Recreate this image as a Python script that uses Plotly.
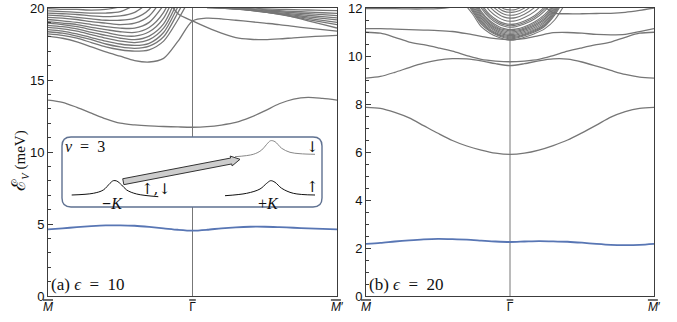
import math
import plotly.graph_objects as go

# ---------------- data ----------------
K21 = [i / 10 for i in range(21)]          # path  M -> Gamma -> M'  (0..2)
XTICK_VALS = [0, 1, 2]
OV = "<span style='text-decoration:overline'>{}</span>"
XTICK_TEXT = [OV.format("<i>M</i>"), OV.format("\u0393"), OV.format("<i>M</i>") + "\u2032"]
YTICKS_A = [0, 5, 10, 15, 20]
YTICKS_B = [0, 2, 4, 6, 8, 10, 12]

# panel (a) eps = 10
blue_a = [4.63, 4.7, 4.78, 4.85, 4.9, 4.91, 4.88, 4.8, 4.7, 4.6, 4.54,
          4.6, 4.7, 4.77, 4.81, 4.81, 4.78, 4.74, 4.7, 4.66, 4.63]
band_a1 = [13.6, 13.45, 13.1, 12.7, 12.3, 12.0, 11.88, 11.81, 11.77, 11.74, 11.72,
           11.76, 11.87, 12.05, 12.4, 12.85, 13.35, 13.68, 13.8, 13.72, 13.6]
low_a = [18.05, 17.9, 17.65, 17.3, 16.95, 16.65, 16.35, 16.25, 16.5, 17.7, 19.1,
         19.3, 19.25, 19.15, 19.05, 18.95, 18.85, 18.72, 18.6, 18.5, 18.4]
cross_a = [None] * 8 + [21.0, 19.6, 19.1, 18.65, 18.25, 17.95, 17.83, 17.8,
                        17.85, 17.93, 18.0, 18.05, 18.1]
bunch_left_a = [
    [18.2, 18.1, 17.9, 17.6, 17.3, 17.1, 17.0, 17.1, 17.7, 19.2, 21.0],
    [18.35, 18.25, 18.05, 17.8, 17.5, 17.3, 17.2, 17.35, 18.0, 19.7, 21.5],
    [18.5, 18.4, 18.2, 17.95, 17.7, 17.5, 17.4, 17.55, 18.3, 20.1, 22.0],
    [18.65, 18.55, 18.4, 18.15, 17.9, 17.7, 17.6, 17.8, 18.6, 20.5],
    [18.8, 18.7, 18.55, 18.3, 18.1, 17.9, 17.8, 18.05, 18.9, 21.0],
    [18.95, 18.85, 18.7, 18.5, 18.3, 18.1, 18.05, 18.35, 19.3, 21.5],
    [19.05, 18.95, 18.85, 18.65, 18.5, 18.35, 18.3, 18.65, 19.7, 22.0],
    [19.2, 19.1, 19.0, 18.85, 18.7, 18.6, 18.6, 19.0, 20.2],
    [19.35, 19.3, 19.2, 19.05, 18.95, 18.85, 18.95, 19.45, 20.8],
    [19.5, 19.45, 19.35, 19.25, 19.15, 19.15, 19.3, 19.9, 21.5],
    [19.65, 19.6, 19.55, 19.45, 19.4, 19.45, 19.7, 20.4],
    [19.8, 19.75, 19.7, 19.65, 19.65, 19.75, 20.2],
    [19.95, 19.9, 19.9, 19.85, 19.9, 20.1, 20.6],
]
bunch_right_a = [   # values at k = 1.1 ... 2.0
    [20.02, 19.99, 19.97, 19.95, 19.93, 19.91, 19.89, 19.86, 19.84, 19.82],
    [20.03, 19.99, 19.94, 19.9, 19.85, 19.81, 19.76, 19.72, 19.67, 19.63],
    [20.07, 20.0, 19.93, 19.87, 19.8, 19.74, 19.67, 19.6, 19.54, 19.47],
    [20.11, 20.02, 19.93, 19.84, 19.75, 19.66, 19.58, 19.49, 19.4, 19.31],
    [20.17, 20.06, 19.94, 19.83, 19.72, 19.61, 19.5, 19.39, 19.28, 19.17],
    [20.29, 20.14, 20.0, 19.86, 19.71, 19.57, 19.43, 19.29, 19.14, 19.0],
    [20.45, 20.27, 20.09, 19.91, 19.73, 19.55, 19.38, 19.2, 19.02, 18.84],
    [20.9, 20.63, 20.38, 20.13, 19.87, 19.62, 19.37, 19.11, 18.86, 18.61],
]

# panel (b) eps = 20
blue_b = [2.17, 2.21, 2.27, 2.32, 2.36, 2.38, 2.37, 2.35, 2.31, 2.27, 2.25,
          2.27, 2.29, 2.28, 2.26, 2.22, 2.17, 2.13, 2.12, 2.13, 2.17]
band_b1 = [7.86, 7.82, 7.65, 7.42, 7.1, 6.78, 6.48, 6.25, 6.08, 5.95, 5.9,
           5.95, 6.08, 6.27, 6.5, 6.8, 7.12, 7.45, 7.68, 7.82, 7.86]
band_b2 = [9.08, 9.15, 9.32, 9.52, 9.7, 9.83, 9.89, 9.88, 9.8, 9.68, 9.6,
           9.68, 9.8, 9.88, 9.87, 9.75, 9.58, 9.4, 9.23, 9.12, 9.08]
band_b3 = [10.99, 10.95, 10.78, 10.58, 10.47, 10.34, 10.2, 10.02, 9.86, 9.79, 9.76,
           9.79, 9.86, 10.02, 10.2, 10.34, 10.47, 10.58, 10.78, 10.95, 10.99]
band_b4 = [11.14, 11.14, 11.12, 11.1, 11.08, 11.06, 11.02, 10.93, 10.82, 10.72, 10.68,
           10.72, 10.85, 10.97, 10.98, 10.95, 10.9, 10.88, 10.9, 11.02, 11.14]
band_b5 = [11.97, 11.97, 11.97, 11.96, 11.96, 11.97, 12.05, 12.3, None, None, None,
           None, 12.3, 11.8, 11.76, 11.76, 11.77, 11.78, 11.82, 11.9, 12.0]
K_CLUSTER = [0.68, 0.74, 0.80, 0.86, 0.92, 0.96, 1.0, 1.04, 1.1, 1.17, 1.24, 1.31, 1.38]
cluster_b = [
    [12.2, 11.75, 11.22, 10.95, 10.78, 10.7, 10.66, 10.68, 10.78, 10.93, 11.13, 11.5, 12.15],
    [12.4, 11.85, 11.33, 11.03, 10.84, 10.76, 10.72, 10.74, 10.84, 11.0, 11.23, 11.7, 12.4],
    [12.5, 11.92, 11.39, 11.07, 10.88, 10.8, 10.76, 10.78, 10.88, 11.04, 11.28, 11.76, 12.5],
    [12.6, 11.98, 11.45, 11.12, 10.92, 10.84, 10.8, 10.82, 10.92, 11.08, 11.33, 11.82, 12.6],
    [12.7, 12.06, 11.51, 11.18, 10.97, 10.89, 10.85, 10.87, 10.97, 11.13, 11.39, 11.88, 12.7],
    [12.8, 12.15, 11.58, 11.24, 11.02, 10.94, 10.9, 10.92, 11.02, 11.19, 11.45, 11.95, 12.8],
    [12.9, 12.25, 11.65, 11.3, 11.07, 10.99, 10.95, 10.97, 11.07, 11.25, 11.52, 12.02, 12.9],
    [13.0, 12.35, 11.72, 11.35, 11.12, 11.04, 11.0, 11.02, 11.12, 11.3, 11.58, 12.1, 13.0],
    [13.1, 12.45, 11.79, 11.41, 11.17, 11.09, 11.05, 11.07, 11.17, 11.36, 11.65, 12.17, 13.1],
    [13.2, 12.55, 11.86, 11.47, 11.23, 11.14, 11.1, 11.12, 11.22, 11.42, 11.72, 12.25, 13.2],
    [13.4, 12.75, 12.0, 11.58, 11.33, 11.24, 11.2, 11.22, 11.33, 11.54, 11.87, 12.4, 13.4],
    [13.5, 12.88, 12.1, 11.65, 11.4, 11.3, 11.26, 11.28, 11.4, 11.61, 11.96, 12.5, 13.5],
    [13.6, 13.0, 12.2, 11.72, 11.46, 11.36, 11.32, 11.34, 11.46, 11.68, 12.05, 12.6, 13.6],
    [13.8, 13.2, 12.4, 11.88, 11.6, 11.49, 11.45, 11.47, 11.6, 11.85, 12.25, 12.8, 13.8],
    [14.0, 13.4, 12.6, 12.05, 11.74, 11.62, 11.58, 11.6, 11.74, 12.02, 12.45, 13.0, 14.0],
    [14.2, 13.6, 12.8, 12.2, 11.87, 11.74, 11.7, 11.72, 11.87, 12.2, 12.65, 13.2, 14.2],
    [14.4, 13.8, 13.0, 12.38, 12.0, 11.86, 11.82, 11.84, 12.0, 12.37, 12.85, 13.4, 14.4],
    [14.6, 14.0, 13.2, 12.55, 12.12, 11.96, 11.92, 11.94, 12.12, 12.55, 13.05, 13.6, 14.6],
]

# inset schematic (inset canvas units)
minusK_x = [71.7, 93.3, 103.3, 110, 113.3, 116.7, 121.7, 126.7, 136.7, 158.3]
minusK_y = [195, 193.3, 190, 183.3, 180.7, 181, 185, 190, 194, 196.7]
plusK_x = [225, 246.7, 260, 266.7, 270.7, 275, 281.7, 293.3, 315]
plusK_y = [195.7, 193.3, 189, 183.3, 180.7, 182.3, 188.3, 193.3, 195]
upperK_x = [235, 253.3, 261.7, 266.7, 270.7, 275, 281.7, 290, 300, 315]
upperK_y = [156.7, 154.3, 150, 144.3, 140.7, 141.7, 148.3, 152.3, 153.7, 154.3]
arrow_tail = (123.3, 181.7)
arrow_tip = (240.0, 159.3)

# ---------------- geometry ----------------
W, H = 677, 322
ML, MR, MT, MB = 48, 23, 8, 26
PW, PH = W - ML - MR, H - MT - MB
DOM_A = [0, (337 - ML) / PW]
DOM_B = [(366 - ML) / PW, 1]
INSET = dict(x0=62, x1=322, y0=137, y1=207)   # pixels

GRAY = "rgb(118,118,118)"
BLUE = "rgb(88,118,180)"
FRAME = "#3c3c3c"
SERIF = "Liberation Serif, DejaVu Serif, serif"
SANS = "Liberation Sans, Arial, sans-serif"

fig = go.Figure()


def band(x, y, xa, ya, color=GRAY, width=1.3):
    fig.add_trace(go.Scatter(x=x, y=y, xaxis=xa, yaxis=ya, mode="lines",
                             line=dict(color=color, width=width, shape="spline", smoothing=0.8),
                             hoverinfo="skip", showlegend=False))


# panel (a)
for row in bunch_left_a:
    band(K21, row + [None] * (21 - len(row)), "x", "y")
for row in bunch_right_a:
    band(K21, [None] * 11 + row, "x", "y")
band(K21, low_a, "x", "y")
band(K21, cross_a, "x", "y")
band(K21, band_a1, "x", "y")
band(K21, blue_a, "x", "y", BLUE, 1.8)

# panel (b)
for row in cluster_b:
    band(K_CLUSTER, row, "x2", "y2", width=1.1)
for row in (band_b5, band_b4, band_b3, band_b2, band_b1):
    band(K21, row, "x2", "y2")
band(K21, blue_b, "x2", "y2", BLUE, 1.8)

# inset curves
for xs, ys, c in ((minusK_x, minusK_y, "#111"), (plusK_x, plusK_y, "#111"),
                  (upperK_x, upperK_y, "#888")):
    fig.add_trace(go.Scatter(x=xs, y=ys, xaxis="x3", yaxis="y3", mode="lines",
                             line=dict(color=c, width=1, shape="spline"),
                             hoverinfo="skip", showlegend=False))
# arrow polygon
tx, ty = arrow_tail
hx, hy = arrow_tip
L = math.hypot(hx - tx, hy - ty)
ux, uy = (hx - tx) / L, (hy - ty) / L
nx, ny = -uy, ux
sw, hw, hl = 3.0, 5.0, 9.0
bx, by = hx - ux * hl, hy - uy * hl
ax_ = [tx + nx * sw, bx + nx * sw, bx + nx * hw, hx, bx - nx * hw, bx - nx * sw, tx - nx * sw, tx + nx * sw]
ay_ = [ty + ny * sw, by + ny * sw, by + ny * hw, hy, by - ny * hw, by - ny * sw, ty - ny * sw, ty + ny * sw]
fig.add_trace(go.Scatter(x=ax_, y=ay_, xaxis="x3", yaxis="y3", mode="lines", fill="toself",
                         fillcolor="rgb(205,205,205)", line=dict(color="#333", width=1),
                         hoverinfo="skip", showlegend=False))


# shapes: Gamma lines + inset box
def k_of(px):
    return (px - 48) / ((337 - 48) / 2)


def e_of(py):
    return (296 - py) / (288 / 20)


shapes = [
    dict(type="line", xref="x", yref="y domain", x0=1, x1=1, y0=0, y1=1,
         line=dict(color="#777", width=1), layer="below"),
    dict(type="line", xref="x2", yref="y2 domain", x0=1, x1=1, y0=0, y1=1,
         line=dict(color="#777", width=1), layer="below"),
]
r = 9
x0, x1, y0, y1 = INSET["x0"], INSET["x1"], INSET["y0"], INSET["y1"]
pts = [("M", x0 + r, y0), ("L", x1 - r, y0), ("Q", x1, y0, x1, y0 + r), ("L", x1, y1 - r),
       ("Q", x1, y1, x1 - r, y1), ("L", x0 + r, y1), ("Q", x0, y1, x0, y1 - r),
       ("L", x0, y0 + r), ("Q", x0, y0, x0 + r, y0)]
path = ""
for p in pts:
    cmd, coords = p[0], p[1:]
    path += cmd + " " + " ".join(
        f"{k_of(coords[i]):.4f},{e_of(coords[i + 1]):.4f}" for i in range(0, len(coords), 2)) + " "
path += "Z"
shapes.append(dict(type="path", xref="x", yref="y", path=path, fillcolor="white",
                   line=dict(color="rgb(95,113,145)", width=1.4), layer="below"))

ARROWFONT = "DejaVu Serif, Liberation Serif, serif"
SP = "\u2002"
ann = [
    dict(text="<span style='font-size:19px'>\u2130</span><sub><i>V</i></sub> (meV)",
         xref="paper", yref="paper", xanchor="center", yanchor="middle",
         x=(19 - ML) / PW, y=0.47, textangle=-90, showarrow=False,
         font=dict(family=SERIF, size=15, color="#111")),
    dict(text=f"(a) <i>\u03f5</i>{SP}={SP}10", xref="x domain", yref="y domain", x=0.005, y=0.04,
         xanchor="left", yanchor="middle", showarrow=False,
         font=dict(family=SERIF, size=17, color="#111")),
    dict(text=f"(b) <i>\u03f5</i>{SP}={SP}20", xref="x2 domain", yref="y2 domain", x=0.005, y=0.04,
         xanchor="left", yanchor="middle", showarrow=False,
         font=dict(family=SERIF, size=17, color="#111")),
]
inset_texts = [(f"<i>\u03bd</i>{SP}={SP}3", 63, 146, "left", SERIF, 16),
               ("\u2191,\u2193", 156, 189, "center", ARROWFONT, 15),
               ("<b>\u2212</b><i>K</i>", 112, 203, "center", SERIF, 16),
               ("+<i>K</i>", 268, 203, "center", SERIF, 16),
               ("\u2191", 312, 187, "center", ARROWFONT, 15),
               ("\u2193", 312, 147, "center", ARROWFONT, 15)]
for t, x, y, anc, fam, fs in inset_texts:
    ann.append(dict(text=t, xref="x3", yref="y3", x=x, y=y, xanchor=anc, yanchor="middle",
                    showarrow=False, font=dict(family=fam, size=fs, color="#111")))

xcommon = dict(range=[0, 2], tickvals=XTICK_VALS, ticktext=XTICK_TEXT, ticks="",
               showline=True, mirror=True, linecolor=FRAME, linewidth=1, automargin=False,
               showgrid=False, zeroline=False, tickfont=dict(family=SANS, size=12, color="#111"))
ycommon = dict(ticks="inside", ticklen=5, tickcolor=FRAME, showline=True, mirror=True,
               linecolor=FRAME, linewidth=1, showgrid=False, zeroline=False, automargin=False,
               tickfont=dict(family=SANS, size=13, color="#111"))

fig.update_layout(
    width=W, height=H, margin=dict(l=ML, r=MR, t=MT, b=MB, autoexpand=False),
    paper_bgcolor="white", plot_bgcolor="rgba(0,0,0,0)", showlegend=False,
    xaxis=dict(domain=DOM_A, anchor="y", **xcommon),
    yaxis=dict(domain=[0, 1], anchor="x", range=[0, 20], tickvals=YTICKS_A,
               minor=dict(ticks="inside", ticklen=2.5, dtick=1, tickcolor=FRAME), **ycommon),
    xaxis2=dict(domain=DOM_B, anchor="y2", **xcommon),
    yaxis2=dict(domain=[0, 1], anchor="x2", range=[0, 12], tickvals=YTICKS_B,
                minor=dict(ticks="inside", ticklen=2.5, dtick=0.5, tickcolor=FRAME), **ycommon),
    xaxis3=dict(domain=[(x0 - ML) / PW, (x1 - ML) / PW], anchor="y3", range=[x0, x1], visible=False),
    yaxis3=dict(domain=[(296 - y1) / PH, (296 - y0) / PH], anchor="x3", range=[y1, y0], visible=False),
    shapes=shapes, annotations=ann,
)

fig.write_html("out.html", config={"displayModeBar": False},
               post_script="document.body.style.margin='0';document.body.style.overflow='hidden';")
